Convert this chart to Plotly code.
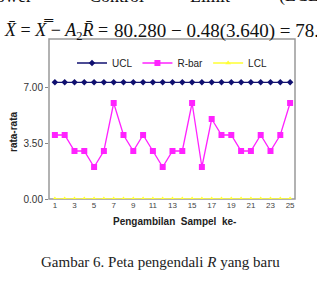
import plotly.graph_objects as go

samples = list(range(1, 26))
r_values = [4, 4, 3, 3, 2, 3, 6, 4, 3, 4, 3, 2, 3, 3, 6, 2, 5, 4, 4, 3, 3, 4, 3, 4, 6]
ucl_value = 7.29
lcl_value = 0.0
y_ticks = [0.0, 3.5, 7.0]
y_tick_labels = ["0.00", "3.50", "7.00"]
x_ticks = list(range(1, 26, 2))

W, H = 317, 291
L, R, T, B = 49, 295, 39, 199


def px(x):
    return (x - L) / (R - L)


def py(y):
    return (B - y) / (B - T)


fig = go.Figure()
fig.add_trace(go.Scatter(x=samples, y=[ucl_value] * len(samples), name="UCL", mode="lines+markers",
                         line=dict(color="#101070", width=1.3),
                         marker=dict(symbol="diamond", size=5, color="#101070")))
fig.add_trace(go.Scatter(x=samples, y=r_values, name="R-bar", mode="lines+markers",
                         line=dict(color="#ff22ff", width=1.3),
                         marker=dict(symbol="square", size=6, color="#ff22ff")))
fig.add_trace(go.Scatter(x=samples, y=[lcl_value] * len(samples), name="LCL", mode="lines+markers",
                         line=dict(color="#ffff33", width=1.3),
                         marker=dict(symbol="triangle-up", size=5, color="#ffff33")))

fig.update_layout(
    width=W, height=H,
    margin=dict(l=L, r=W - R, t=T, b=H - B, pad=0),
    paper_bgcolor="white", plot_bgcolor="white",
    showlegend=True,
    legend=dict(orientation="h", x=0.5, xanchor="center", y=py(63), yanchor="middle",
                font=dict(family="Liberation Sans, Arial", size=10, color="#222"),
                bgcolor="rgba(0,0,0,0)", itemwidth=30, tracegroupgap=0),
    font=dict(family="Liberation Sans, Arial", color="#333"),
)
fig.update_xaxes(range=[0.4, 25.5], tickvals=x_ticks, ticktext=[str(v) for v in x_ticks],
                 tickfont=dict(size=8, color="#444"), showgrid=False, zeroline=False,
                 showline=False, ticks="", ticklen=0)
fig.update_yaxes(range=[0, 10.0], tickvals=y_ticks, ticktext=y_tick_labels,
                 tickfont=dict(size=10, color="#333"), showgrid=False, zeroline=False,
                 showline=False, ticks="outside", ticklen=3, tickcolor="#888")

fig.add_shape(type="rect", xref="paper", yref="paper", x0=0, x1=1, y0=0, y1=1,
              line=dict(color="#999", width=1.5), layer="below")

ann = []
ann.append(dict(text="<b>rata-rata</b>", x=px(13), y=py(132), textangle=-90,
                font=dict(family="Liberation Sans, Arial", size=10, color="#222")))
ann.append(dict(text="<b>Pengambilan  Sampel  ke-</b>", x=px(174), y=py(221),
                font=dict(family="Liberation Sans, Arial", size=10, color="#222")))
ann.append(dict(text="Gambar 6. Peta pengendali <i>R</i> yang baru", x=px(160), y=py(262),
                font=dict(family="Liberation Serif, Times New Roman", size=15, color="#222")))
ann.append(dict(text="<i>X\u0304</i> = <i>X\u033f</i> \u2212 <i>A</i><sub>2</sub><i>R\u0304</i> =",
                x=px(2), y=py(31), xanchor="left",
                font=dict(family="Liberation Serif, Times New Roman", size=18, color="#111")))
ann.append(dict(text="80.280 \u2212 0.48(3.640) = 78.533",
                x=px(112), y=py(31), xanchor="left",
                font=dict(family="Liberation Serif, Times New Roman", size=19, color="#111")))
for word, cx in [("Lower", 8), ("Control", 116), ("Limit", 210), ("(LCL)", 302)]:
    ann.append(dict(text=word, x=px(cx), y=py(-4),
                    font=dict(family="Liberation Serif, Times New Roman", size=18, color="#111")))
for a in ann:
    a.update(xref="paper", yref="paper", showarrow=False)
    a.setdefault("xanchor", "center")
    a.setdefault("yanchor", "middle")
fig.update_layout(annotations=ann)

fig.write_html("out.html")
